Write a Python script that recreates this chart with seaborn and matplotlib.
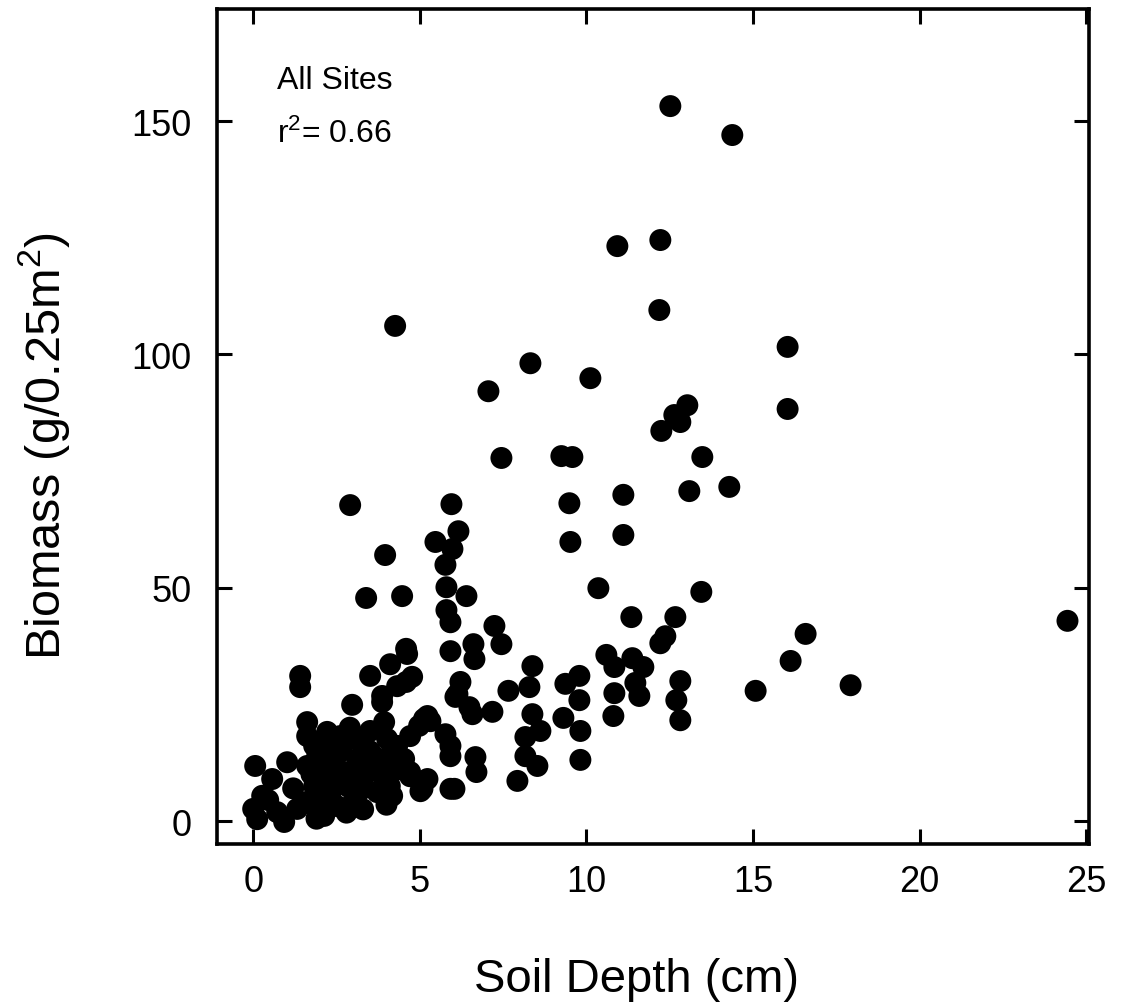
import matplotlib
matplotlib.use("Agg")
import matplotlib.pyplot as plt
import seaborn as sns
import pandas as pd

soil_depth = [
    12.52, 14.38, 10.93, 12.22, 12.19, 4.26, 16.04, 8.32, 10.12, 7.06,
    13.03, 16.04, 12.64, 12.82, 12.25, 7.45, 9.25, 9.58, 13.48, 13.09,
    14.29, 5.95, 9.49, 11.11, 2.91, 6.16, 5.47, 9.52, 11.11, 3.96,
    5.98, 5.77, 4.47, 3.39, 5.80, 6.40, 5.80, 5.92, 10.36, 13.45,
    11.35, 12.67, 12.22, 12.37, 7.24, 7.45, 4.59, 6.61, 6.64, 5.92,
    8.38, 8.29, 9.79, 9.37, 9.79, 10.60, 10.84, 11.38, 11.71, 10.84,
    11.47, 11.59, 10.81, 12.82, 12.70, 12.82, 9.82, 9.82, 9.31, 7.66,
    7.18, 6.22, 6.07, 6.49, 6.58, 8.38, 8.62, 8.17, 8.17, 8.53,
    7.93, 6.67, 6.70, 4.59, 6.04, 5.08, 4.71, 24.44, 16.58, 16.13,
    15.08, 17.93,
    4.11, 3.51, 1.41, 1.41, 4.77, 4.32, 3.87, 3.87, 6.13, 2.97,
    1.62, 3.51, 5.23, 5.32, 5.77, 5.92, 4.71, 5.23, 5.92, 5.02,
    4.17, 0.06, 1.02, 0.57, 0.00, 0.27, 0.12, 0.72, 0.93, 1.32,
    1.62, 2.13, 2.52, 3.03, 3.72, 1.83, 2.31, 2.82, 1.62, 2.13,
    2.61, 3.12, 3.63, 3.93, 1.83, 2.31, 2.61, 3.12, 1.62, 1.92,
    2.31, 1.83, 2.73, 3.33, 4.32, 4.53, 4.71, 4.98, 4.02, 3.93,
    2.00, 2.50, 3.30, 3.50, 2.90, 4.00, 4.30, 4.00, 3.30, 2.80,
    1.90, 2.22, 5.92, 5.13, 4.62, 2.40, 3.00, 3.60, 2.10, 2.70,
    3.20, 1.75, 4.10, 1.20, 0.45,
]

biomass = [
    153.2, 147.0, 123.2, 124.5, 109.5, 106.1, 101.6, 98.1, 94.9, 92.1,
    89.1, 88.3, 87.0, 85.5, 83.6, 77.8, 78.2, 78.0, 78.0, 70.7,
    71.6, 67.9, 68.1, 69.9, 67.7, 62.1, 59.8, 59.8, 61.3, 57.0,
    58.3, 54.9, 48.2, 47.8, 50.1, 48.2, 45.2, 42.6, 49.9, 49.1,
    43.7, 43.7, 38.1, 39.6, 41.8, 37.9, 36.9, 37.9, 34.7, 36.4,
    33.2, 28.7, 31.1, 29.4, 25.9, 35.6, 33.0, 34.9, 33.0, 27.4,
    29.6, 26.8, 22.5, 30.0, 25.9, 21.6, 19.3, 13.1, 22.1, 27.9,
    23.4, 29.8, 26.6, 24.4, 22.9, 22.9, 19.3, 18.0, 13.9, 11.8,
    8.6, 13.7, 10.5, 29.8, 6.9, 6.9, 9.6, 42.9, 40.1, 34.3,
    27.9, 29.1,
    33.6, 31.1, 31.1, 28.7, 30.9, 28.9, 26.8, 25.5, 27.2, 24.9,
    21.2, 19.3, 22.5, 21.4, 18.6, 16.1, 10.5, 9.0, 6.9, 6.4,
    5.4, 11.8, 12.6, 9.0, 2.6, 5.4, 0.4, 1.9, -0.2, 2.6,
    4.1, 1.1, 3.2, 4.7, 6.2, 7.5, 8.4, 7.5, 11.8, 12.6,
    14.8, 13.3, 11.8, 9.0, 16.1, 17.6, 18.2, 17.6, 18.2, 13.9,
    5.4, 3.2, 10.5, 9.6, 16.1, 13.3, 18.2, 20.4, 17.6, 21.2,
    9.5, 11.0, 11.0, 15.0, 20.0, 13.5, 11.0, 3.5, 2.5, 1.8,
    0.5, 19.1, 13.9, 21.9, 35.8, 15.5, 10.0, 14.0, 6.0, 16.5,
    6.5, 10.0, 7.5, 7.0, 4.5,
]

x_ticks = [0, 5, 10, 15, 20, 25]
y_ticks = [0, 50, 100, 150]
x_label = "Soil Depth (cm)"
y_label = r"Biomass (g/0.25m$\mathregular{^{2}}$)"
note_title = "All Sites"
note_r2 = r"$\mathregular{r^{2}}$= 0.66"

df = pd.DataFrame({"depth": soil_depth, "biomass": biomass})

sns.set_theme(style="ticks")
plt.rcParams["font.family"] = ["Liberation Sans", "DejaVu Sans"]
plt.rcParams["mathtext.fontset"] = "custom"
plt.rcParams["mathtext.rm"] = "Liberation Sans"
plt.rcParams["text.color"] = "black"
plt.rcParams["axes.labelcolor"] = "black"

fig = plt.figure(figsize=(11.22, 10.04), dpi=100)
ax = fig.add_axes([0.193, 0.158, 0.778, 0.832])

sns.scatterplot(data=df, x="depth", y="biomass", ax=ax, color="black",
                s=250, edgecolor="none", linewidth=0, legend=False)

ax.set_xlim(-1.1, 25.1)
ax.set_ylim(-5, 174)
ax.set_xticks(x_ticks)
ax.set_yticks(y_ticks)
ax.set_xticklabels([str(t) for t in x_ticks])
ax.set_yticklabels([str(t) for t in y_ticks])

for sp in ax.spines.values():
    sp.set_visible(True)
    sp.set_linewidth(2.6)
    sp.set_color("black")

ax.tick_params(axis="both", direction="in", length=11, width=2.2,
               colors="black", labelcolor="black", labelsize=26,
               top=True, right=True)
ax.tick_params(axis="x", pad=14)
ax.tick_params(axis="y", pad=18)

ax.set_xlabel(x_label, fontsize=34, color="black")
ax.set_ylabel(y_label, fontsize=35, color="black")
ax.xaxis.set_label_coords(0.481, -0.135)
ax.yaxis.set_label_coords(-0.166, 0.478)

ax.text(0.069, 0.905, note_title, transform=ax.transAxes, fontsize=23,
        ha="left", va="baseline", color="black")
ax.text(0.069, 0.841, note_r2, transform=ax.transAxes, fontsize=23,
        ha="left", va="baseline", color="black")

fig.savefig("out.png", dpi=100, facecolor="white")
